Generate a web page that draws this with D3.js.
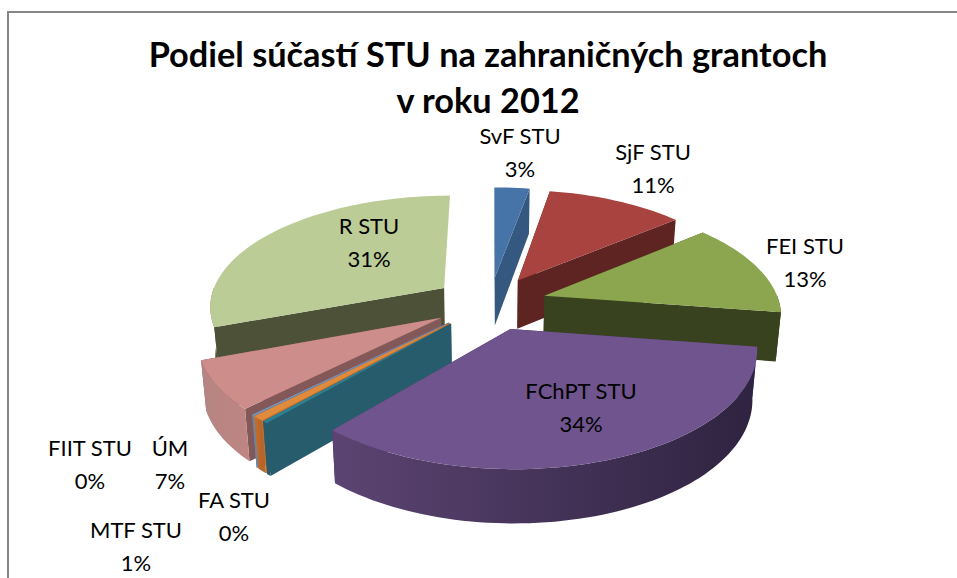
<!DOCTYPE html>
<html><head><meta charset="utf-8">
<script src="https://cdn.jsdelivr.net/npm/d3@7/dist/d3.min.js"></script>
<style>html,body{margin:0;background:#fff}svg{display:block}text{font-family:Lato,"Open Sans",sans-serif;fill:#000}</style>
</head><body><div id="c"></div>
<script>
const categories=["SvF STU","SjF STU","FEI STU","FChPT STU","FA STU","MTF STU","FIIT STU","ÚM","R STU"];
const values=[2.85,11.1,13.4,34.05,0.3,0.7,0.1,6.8,30.7];
const percentLabels=["3%","11%","13%","34%","0%","1%","0%","7%","31%"];
const titleLines=["Podiel súčastí STU na zahraničných grantoch","v roku 2012"];
const topColors=["#4673A8","#A8433F","#8BA64E","#6F548D","#2E7F92","#E08A3C","#7D97BF","#CD8D8B","#BBCC96"];
const wallColors=["#34587F","#5E2422","#38421E","#4F3B66","#265C6B","#C56F2E","#6C83A6","#835858","#4C5137"];
const arcLeft=["#34587F","#7a2f2c","#38421E","#5C4472","#265C6B","#C56F2E","#6C83A6","#B58583","#7f8c60"];
const arcRight=["#34587F","#5E2422","#38421E","#2E2340","#265C6B","#B5642A","#6C83A6","#BE8582","#4C5137"];
const labelX=[520,653,805,581,234,136,90,170,369];
const labelY=[137,153,247,392,501,531,449,449,227];
const W=957,H=578,CX=490,CY=303,R=235,E=57,K=0.47,P=0.15,DEPTH=49,BOT=0.982;

const svg=d3.select("#c").append("svg").attr("width",W).attr("height",H);
const defs=svg.append("defs");
svg.append("path").attr("d",`M8 578V12H957`).attr("fill","none").attr("stroke","#868686").attr("stroke-width",2);

const pie=d3.pie().sort(null).value(d=>d).startAngle(0).endAngle(2*Math.PI);
const arcs=pie(values).map((a,i)=>({...a,i,mid:(a.startAngle+a.endAngle)/2}));

function proj(X,Y,bottom){
  const s=1/(1+P*Y/R);
  const f=bottom?BOT:1;
  return [CX+X*s*f, CY-K*Y*s+(bottom?DEPTH*Math.sqrt(s):0)];
}
function pt(d,r,th,bottom){
  const X=E*Math.sin(d.mid)+r*Math.sin(th), Y=E*Math.cos(d.mid)+r*Math.cos(th);
  return proj(X,Y,bottom);
}
const line=d3.line();
function arcPts(d,bottom){
  const n=Math.max(2,Math.ceil((d.endAngle-d.startAngle)/0.03));
  return d3.range(n+1).map(j=>pt(d,R,d.startAngle+(d.endAngle-d.startAngle)*j/n,bottom));
}
const order=arcs.slice().sort((a,b)=>Math.cos(b.mid)-Math.cos(a.mid));
const gs=svg.selectAll("g.slice").data(order).join("g").attr("class","slice");
gs.each(function(d){
  const g=d3.select(this),c=wallColors[d.i];
  const apexT=pt(d,0,0,false),apexB=pt(d,0,0,true);
  [d.startAngle,d.endAngle].filter(th=>th<2*Math.PI-0.01).forEach(th=>{
    g.append("path").attr("d",line([apexT,pt(d,R,th,false),pt(d,R,th,true),apexB])+"Z").attr("fill",c);
  });
  const a0=Math.max(d.startAngle,Math.PI/2),a1=Math.min(d.endAngle,Math.PI*3/2);
  if(a1>a0){
    const n=Math.max(2,Math.ceil((a1-a0)/0.03));
    const ths=d3.range(n+1).map(j=>a0+(a1-a0)*j/n);
    const top=ths.map(t=>pt(d,R,t,false)),bot=ths.map(t=>pt(d,R,t,true)).reverse();
    const xs=top.map(p=>p[0]);
    const id="grad"+d.i;
    const gr=defs.append("linearGradient").attr("id",id).attr("gradientUnits","userSpaceOnUse")
      .attr("x1",d3.min(xs)).attr("x2",d3.max(xs)).attr("y1",0).attr("y2",0);
    gr.append("stop").attr("offset",0).attr("stop-color",arcLeft[d.i]);
    gr.append("stop").attr("offset",1).attr("stop-color",arcRight[d.i]);
    g.append("path").attr("d",line(top.concat(bot))+"Z").attr("fill",`url(#${id})`);
  }
  g.append("path").attr("d",line([apexT].concat(arcPts(d,false)))+"Z").attr("fill",topColors[d.i]);
});

svg.append("g").selectAll("text").data(titleLines).join("text")
  .attr("x",488).attr("y",(d,i)=>67+i*46).attr("text-anchor","middle")
  .attr("font-size",34.3).attr("font-weight",700).text(d=>d);
const lab=svg.append("g").selectAll("g").data(categories).join("g");
lab.append("text").attr("x",(d,i)=>labelX[i]).attr("y",(d,i)=>labelY[i]+7).attr("text-anchor","middle").attr("font-size",22).text(d=>d);
lab.append("text").attr("x",(d,i)=>labelX[i]).attr("y",(d,i)=>labelY[i]+40).attr("text-anchor","middle").attr("font-size",22).text((d,i)=>percentLabels[i]);
</script></body></html>
